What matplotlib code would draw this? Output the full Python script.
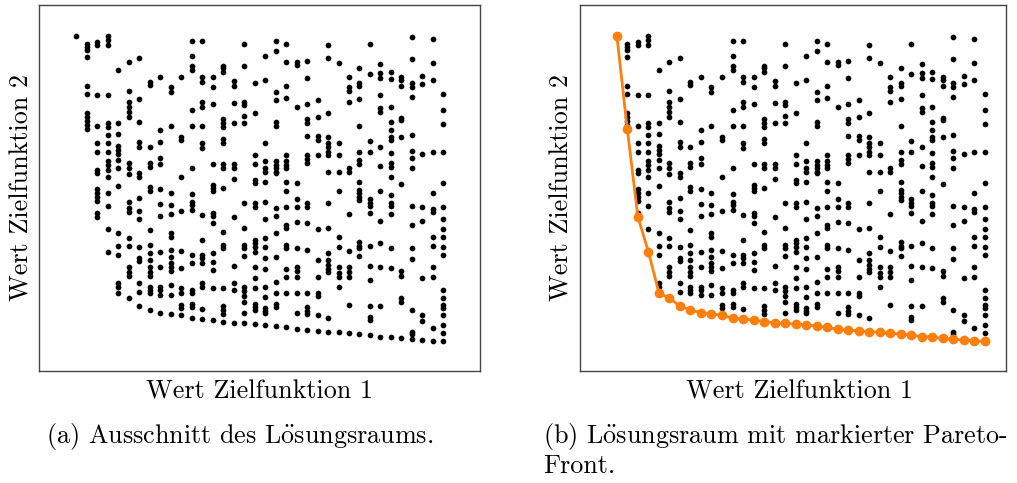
import numpy as np
import matplotlib
matplotlib.use("Agg")
import matplotlib.pyplot as plt

plt.rcParams['font.family'] = ['cmr10', 'DejaVu Serif']
plt.rcParams['mathtext.fontset'] = 'cm'
plt.rcParams['axes.formatter.use_mathtext'] = True

# Werte Zielfunktion 1 (diskrete Stufen)
f1_levels = [0, 1, 2, 3, 4, 5, 6, 7, 8, 9, 10, 11, 12, 13, 14, 15, 16, 17,
             18, 19, 20, 21, 22, 23, 24, 25, 26, 27, 28, 29, 30, 31, 32, 33, 34, 35]

# Werte Zielfunktion 2 je Stufe (Achse invertiert: groesser = weiter unten)
f2_by_level = [
    [107],
    [131, 141, 151, 172, 258, 281, 340, 350, 362, 374, 388],
    [125, 136, 285, 378, 428, 456, 510, 520, 567, 578, 590, 602, 638, 650],
    [107, 121, 136, 285, 370, 380, 405, 428, 456, 482, 495, 510, 530, 578, 618, 686, 755],
    [210, 370, 402, 438, 450, 462, 480, 505, 558, 700, 737, 765, 848, 862, 878],
    [186, 272, 305, 322, 335, 352, 490, 505, 523, 605, 625, 635, 715, 737, 800, 815, 828, 895],
    [173, 298, 367, 425, 440, 518, 530, 593, 633, 658, 742, 775, 782, 850, 875, 918],
    [246, 256, 442, 490, 500, 562, 572, 690, 735, 760, 780, 800, 815, 828, 860, 870, 880, 930],
    [230, 390, 425, 475, 493, 568, 612, 647, 755, 800, 860, 870, 885, 938],
    [262, 275, 378, 580, 615, 643, 700, 712, 750, 770, 790, 800, 812, 855, 885, 942],
    [230, 410, 420, 530, 633, 752, 805, 865, 880, 915, 925, 945],
    [122, 167, 197, 210, 330, 378, 505, 583, 605, 615, 630, 765, 790, 870, 880, 912, 922, 955],
    [122, 230, 245, 305, 322, 378, 430, 443, 645, 720, 765, 775, 790, 850, 862, 928, 957],
    [230, 262, 312, 493, 555, 565, 572, 640, 648, 668, 760, 785, 810, 865, 960],
    [197, 205, 215, 358, 368, 380, 418, 430, 493, 505, 565, 695, 735, 745, 865, 918, 930, 942, 965],
    [242, 258, 310, 368, 493, 505, 538, 652, 798, 848, 870, 968],
    [131, 198, 305, 315, 347, 368, 608, 683, 735, 745, 768, 862, 872, 888, 905, 940, 970],
    [250, 338, 466, 493, 540, 550, 608, 622, 720, 730, 740, 755, 800, 835, 865, 912, 922, 930, 972],
    [167, 240, 428, 484, 505, 515, 547, 605, 658, 715, 740, 775, 808, 862, 890, 925, 932, 940, 975],
    [122, 152, 275, 300, 365, 378, 484, 495, 505, 515, 520, 625, 648, 698, 770, 845, 878, 912, 920, 978],
    [131, 187, 258, 295, 466, 484, 495, 505, 547, 572, 622, 675, 685, 735, 745, 808, 832, 878, 982],
    [185, 195, 320, 548, 598, 622, 665, 745, 800, 812, 830, 878, 940, 988],
    [183, 235, 313, 358, 368, 408, 466, 478, 490, 610, 622, 670, 750, 878, 922, 932, 942, 990],
    [300, 352, 408, 420, 466, 688, 780, 832, 878, 888, 945, 993],
    [135, 175, 340, 412, 430, 442, 456, 464, 515, 610, 685, 760, 780, 795, 808, 815, 955, 995],
    [190, 430, 464, 515, 572, 710, 740, 800, 820, 830, 862, 997],
    [232, 262, 272, 305, 505, 515, 642, 752, 800, 815, 830, 915, 1000],
    [205, 250, 258, 298, 377, 455, 480, 493, 545, 570, 580, 590, 600, 725, 738, 745, 768, 1002],
    [133, 222, 424, 455, 597, 608, 617, 640, 738, 797, 840, 918, 950, 960, 1006],
    [192, 220, 235, 285, 324, 335, 440, 497, 572, 662, 730, 800, 918, 1010],
    [215, 238, 320, 365, 390, 410, 420, 460, 490, 500, 530, 585, 608, 618, 642, 745, 805, 1012],
    [232, 240, 258, 355, 360, 412, 553, 812, 828, 895, 905, 1015],
    [112, 178, 248, 262, 290, 405, 452, 475, 505, 618, 675, 745, 778, 930, 995, 1002, 1018],
    [228, 252, 463, 620, 662, 835, 945, 962, 1020],
    [117, 190, 240, 456, 578, 628, 635, 712, 738, 802, 830, 985, 1022],
    [283, 330, 372, 456, 548, 620, 658, 687, 712, 742, 765, 870, 895, 915, 925, 945, 975, 1000, 1024],
]

x = np.concatenate([[f] * len(v) for f, v in zip(f1_levels, f2_by_level)])
y = np.concatenate(f2_by_level)

# Pareto-Front: kleinstes f1, "unterster" Punkt (groesster Wert bei invertierter Achse)
front_x, front_y = [], []
best = -np.inf
for f, v in zip(f1_levels, f2_by_level):
    m = max(v)
    if m > best:
        front_x.append(f)
        front_y.append(m)
        best = m

fig = plt.figure(figsize=(10.17, 4.83), dpi=100)
ax1 = fig.add_axes([39.3 / 1017, 1 - 370.7 / 483, 440.7 / 1017, 365.4 / 483])
ax2 = fig.add_axes([580 / 1017, 1 - 370.7 / 483, 426 / 1017, 365.4 / 483])

for ax in (ax1, ax2):
    ax.scatter(x, y, s=17, color='black', linewidths=0, zorder=2)
    ax.set_ylim(1112, 16)
    ax.set_xticks([])
    ax.set_yticks([])
    for sp in ax.spines.values():
        sp.set_color('#444444')
        sp.set_linewidth(1.0)

ax1.set_xlim(-3.53, 38.49)
ax2.set_xlim(-3.5, 37.0)

ax2.plot(front_x, front_y, color='#ff7f0e', lw=2, marker='o', ms=6, zorder=3)

fs = 18.8
oe = r'$\ddot{\mathrm{o}}$'
fig.text(260 / 1017, 1 - 392 / 483, 'Wert Zielfunktion 1', ha='center', va='center', fontsize=fs)
fig.text(22 / 1017, 1 - 188 / 483, 'Wert Zielfunktion 2', ha='center', va='center', fontsize=fs, rotation=90)
fig.text(800 / 1017, 1 - 392 / 483, 'Wert Zielfunktion 1', ha='center', va='center', fontsize=fs)
fig.text(562 / 1017, 1 - 188 / 483, 'Wert Zielfunktion 2', ha='center', va='center', fontsize=fs, rotation=90)

fig.text(46 / 1017, 1 - 437 / 483, '(a) Ausschnitt des L' + oe + 'sungsraums.', ha='left', va='center', fontsize=fs)
fig.text(543 / 1017, 1 - 437 / 483, '(b) L' + oe + 'sungsraum mit markierter Pareto-', ha='left', va='center', fontsize=fs)
fig.text(543 / 1017, 1 - 466 / 483, 'Front.', ha='left', va='center', fontsize=fs)

fig.savefig('out.png', dpi=100)
